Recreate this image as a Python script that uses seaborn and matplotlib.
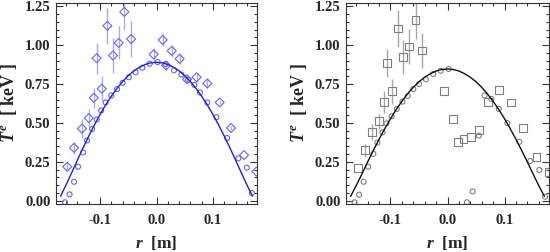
import numpy as np
import pandas as pd
import matplotlib
matplotlib.use("Agg")
import matplotlib.pyplot as plt
import seaborn as sns

# ---- data ----
# fitted profiles
fit_r = [-0.17, -0.16, -0.15, -0.14, -0.13, -0.12, -0.11, -0.10, -0.09, -0.08, -0.07, -0.06,
         -0.05, -0.04, -0.03, -0.02, -0.01, 0.0, 0.01, 0.02, 0.03, 0.04, 0.05, 0.06, 0.07,
         0.08, 0.09, 0.10, 0.11, 0.12, 0.13, 0.14, 0.15, 0.16, 0.17]
fit_left = [0.028, 0.102, 0.181, 0.261, 0.340, 0.415, 0.487, 0.554, 0.616, 0.672, 0.722, 0.766,
            0.804, 0.835, 0.859, 0.876, 0.887, 0.890, 0.887, 0.876, 0.859, 0.835, 0.804, 0.766,
            0.722, 0.672, 0.616, 0.554, 0.487, 0.415, 0.340, 0.261, 0.181, 0.102, 0.028]
fit_right = [0.027, 0.097, 0.172, 0.249, 0.323, 0.395, 0.463, 0.527, 0.586, 0.639, 0.687, 0.729,
             0.765, 0.794, 0.817, 0.834, 0.844, 0.847, 0.844, 0.834, 0.817, 0.794, 0.765, 0.729,
             0.687, 0.639, 0.586, 0.527, 0.463, 0.395, 0.323, 0.249, 0.172, 0.097, 0.027]

# small circles (left panel)
circ_l_r = [-0.162, -0.154, -0.146, -0.139, -0.130, -0.123, -0.114, -0.106, -0.098, -0.090,
            -0.080, -0.070, -0.060, -0.049, -0.037, -0.025, -0.012, 0.002, 0.016, 0.031,
            0.044, 0.056, 0.067, 0.077, 0.090, 0.106, 0.125, 0.145, 0.160, 0.169]
circ_l_t = [-0.011, 0.040, 0.121, 0.218, 0.310, 0.387, 0.461, 0.522, 0.580, 0.632,
            0.677, 0.718, 0.758, 0.794, 0.826, 0.855, 0.881, 0.892, 0.879, 0.839,
            0.811, 0.777, 0.745, 0.696, 0.632, 0.537, 0.403, 0.272, 0.212, 0.049]

# diamonds with error bars (left panel)
diam_r = [-0.158, -0.146, -0.132, -0.120, -0.111, -0.106, -0.097, -0.087, -0.077, -0.067,
          -0.057, -0.045, -0.005, 0.011, 0.017, 0.027, 0.041, 0.054, 0.071, 0.090,
          0.112, 0.132, 0.155, 0.177]
diam_t = [0.218, 0.340, 0.463, 0.531, 0.662, 0.917, 0.720, 1.125, 0.934, 1.015,
          1.215, 1.040, 0.941, 1.034, 0.870, 0.964, 0.913, 0.781, 0.794, 0.754,
          0.632, 0.467, 0.293, 0.187]
diam_e = [0.03, 0.04, 0.06, 0.06, 0.064, 0.10, 0.08, 0.117, 0.11, 0.106,
          0.12, 0.117, 0.04, 0.04, 0.03, 0.04, 0.035, 0.02, 0.03, 0.03,
          0.01, 0.01, 0.0, 0.0]

# small circles (right panel)
circ_r_r = [-0.163, -0.155, -0.147, -0.139, -0.130, -0.123, -0.114, -0.107, -0.098, -0.089,
            -0.079, -0.070, -0.060, -0.050, -0.038, -0.025, -0.012, 0.002, 0.017, 0.034,
            0.044, 0.055, 0.065, 0.077, 0.090, 0.105, 0.126, 0.145, 0.161, 0.171]
circ_r_t = [-0.011, 0.038, 0.121, 0.218, 0.301, 0.374, 0.439, 0.497, 0.543, 0.590,
            0.637, 0.673, 0.718, 0.750, 0.781, 0.815, 0.836, 0.847, -0.040, -0.011,
            0.059, 0.418, 0.677, 0.654, 0.590, 0.499, 0.378, 0.255, 0.197, 0.025]

# squares with error bars (right panel)
sq_r = [-0.157, -0.145, -0.132, -0.120, -0.111, -0.106, -0.097, -0.087, -0.078, -0.067,
        -0.056, -0.044, -0.006, 0.010, 0.018, 0.028, 0.041, 0.055, 0.071, 0.090,
        0.111, 0.133, 0.156, 0.177]
sq_t = [0.208, 0.323, 0.441, 0.510, 0.637, 0.885, 0.705, 1.108, 0.924, 0.992,
        1.161, 0.966, 0.707, 0.524, 0.376, 0.397, 0.412, 0.452, 0.637, 0.713,
        0.631, 0.465, 0.282, 0.185]
sq_e = [0.0, 0.04, 0.05, 0.05, 0.07, 0.09, 0.08, 0.12, 0.11, 0.11,
        0.12, 0.11, 0.0, 0.0, 0.0, 0.0, 0.0, 0.0, 0.0, 0.0,
        0.0, 0.0, 0.0, 0.0]

sns.set_theme(style="ticks")
plt.rcParams["font.family"] = ["Liberation Serif", "DejaVu Serif"]
plt.rcParams["font.weight"] = "bold"
plt.rcParams["mathtext.fontset"] = "custom"
plt.rcParams["mathtext.rm"] = "Liberation Serif:bold"
plt.rcParams["mathtext.it"] = "Liberation Serif:italic:bold"
plt.rcParams["mathtext.bf"] = "Liberation Serif:bold"

fig = plt.figure(figsize=(5.5, 2.52), dpi=100)
ax1 = fig.add_axes([56 / 550, 48 / 252, 201 / 550, 201 / 252])
ax2 = fig.add_axes([346 / 550, 48 / 252, 203 / 550, 201 / 252])


def draw(ax, circ_r, circ_t, pts_r, pts_t, pts_e, fit, mk, ms, mcol, ecol, lcol):
    ax.errorbar(pts_r, pts_t, yerr=pts_e, fmt="none", ecolor=ecol, elinewidth=1.0,
                capsize=0, zorder=2)
    sns.scatterplot(x=circ_r, y=circ_t, ax=ax, marker="o", s=13, facecolor="none",
                    edgecolor=mcol, linewidth=0.8, zorder=3)
    sns.scatterplot(x=pts_r, y=pts_t, ax=ax, marker=mk, s=ms, facecolor="none",
                    edgecolor=mcol, linewidth=0.8, zorder=3)
    sns.lineplot(x=fit_r, y=fit, ax=ax, color=lcol, linewidth=1.0, sort=False,
                 estimator=None, zorder=4)
    ax.set_xlim(-0.178, 0.178)
    ax.set_ylim(-0.022, 1.272)
    ax.set_xticks([-0.1, 0.0, 0.1])
    ax.set_xticklabels(["-0.1", "0.0", "0.1"])
    ax.set_xticks(np.arange(-0.16, 0.17, 0.02), minor=True)
    ax.set_yticks([0, 0.25, 0.5, 0.75, 1.0, 1.25])
    ax.set_yticklabels(["0.00", "0.25", "0.50", "0.75", "1.00", "1.25"])
    ax.set_yticks(np.arange(0, 1.27, 0.05), minor=True)
    ax.tick_params(which="both", direction="in", top=True, right=True,
                   labelsize=10.5, color="#333333", width=0.8)
    ax.tick_params(which="major", length=5)
    ax.tick_params(which="minor", length=2.5)
    ax.tick_params(axis="x", pad=7)
    ax.tick_params(axis="y", pad=4)
    for s in ax.spines.values():
        s.set_color("#333333")
        s.set_linewidth(0.8)
    ax.set_xlabel(r"$r$  [m]", fontsize=12.5, fontweight="bold", labelpad=5)
    ax.set_ylabel(r"$T^e$  [ keV ]", fontsize=13, fontweight="bold", labelpad=4)


draw(ax1, circ_l_r, circ_l_t, diam_r, diam_t, diam_e, fit_left, "D", 21,
     "#6666ff", "#aaaaff", "#2222dd")
draw(ax2, circ_r_r, circ_r_t, sq_r, sq_t, sq_e, fit_right, "s", 32,
     "#808080", "#a8a8a8", "#111111")

fig.savefig("out.png", dpi=100)
